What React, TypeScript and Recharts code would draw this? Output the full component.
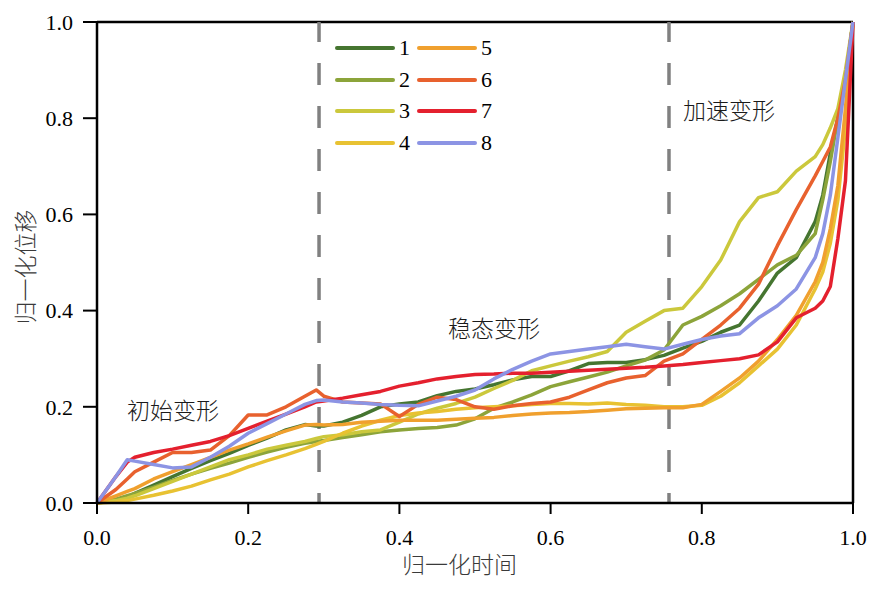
import React from 'react'
import { LineChart, Line, XAxis, YAxis, ReferenceLine } from 'recharts'

// normalised time grid shared by all 8 curves
const XS = [
  0, 0.025, 0.04, 0.05,
  0.075, 0.1, 0.125, 0.15, 0.175, 0.2, 0.225, 0.25, 0.275,
  0.29,
  0.3, 0.325, 0.35, 0.375, 0.4, 0.425, 0.45, 0.475, 0.5, 0.525, 0.55, 0.575, 0.6, 0.625, 0.65, 0.675, 0.7,
  0.725, 0.75, 0.775, 0.8, 0.825, 0.85, 0.875, 0.9, 0.925, 0.95,
  0.96, 0.97, 0.98, 0.99, 1,
]

const S1 = [
  0, 0.005, 0.012, 0.02,
  0.037, 0.055, 0.072, 0.088, 0.103, 0.12, 0.135, 0.152, 0.163,
  0.16,
  0.16, 0.168, 0.182, 0.2, 0.206, 0.21, 0.223, 0.232, 0.237, 0.246, 0.256, 0.263, 0.263, 0.275, 0.29, 0.292, 0.292,
  0.298, 0.307, 0.322, 0.336, 0.355, 0.37, 0.42, 0.478, 0.51, 0.585,
  0.64, 0.727, 0.8, 0.88, 1,
]
const S2 = [
  0, 0.008, 0.015, 0.02,
  0.033, 0.047, 0.06, 0.072, 0.083, 0.095, 0.106, 0.116, 0.124,
  0.128,
  0.13, 0.136, 0.142, 0.148, 0.152, 0.155, 0.157, 0.162, 0.175, 0.197, 0.21, 0.225, 0.242, 0.252, 0.262, 0.272, 0.285,
  0.297, 0.318, 0.37, 0.388, 0.41, 0.435, 0.465, 0.495, 0.515, 0.56,
  0.63, 0.71, 0.8, 0.88, 1,
]
const S3 = [
  0, 0.005, 0.01, 0.015,
  0.03, 0.045, 0.06, 0.075, 0.09, 0.1, 0.112, 0.12, 0.128,
  0.134,
  0.138, 0.142, 0.148, 0.152, 0.168, 0.185, 0.197, 0.207, 0.22, 0.238, 0.255, 0.275, 0.285, 0.295, 0.304, 0.315, 0.355,
  0.378, 0.4, 0.405, 0.45, 0.505, 0.585, 0.635, 0.647, 0.69, 0.72,
  0.745, 0.78, 0.82, 0.9, 1,
]
const S4 = [
  0, 0.002, 0.005, 0.008,
  0.016, 0.025, 0.035, 0.048, 0.06, 0.075, 0.088, 0.1, 0.113,
  0.122,
  0.128, 0.145, 0.16, 0.172, 0.182, 0.187, 0.19, 0.195, 0.198, 0.2, 0.202, 0.205, 0.207, 0.207, 0.206, 0.208, 0.205,
  0.203, 0.2, 0.2, 0.203, 0.222, 0.25, 0.285, 0.32, 0.37, 0.445,
  0.48, 0.54, 0.63, 0.78, 1,
]
const S5 = [
  0, 0.015, 0.024, 0.03,
  0.05, 0.065, 0.08, 0.095, 0.11, 0.123, 0.137, 0.15, 0.162,
  0.163,
  0.162, 0.163, 0.168, 0.17, 0.172, 0.172, 0.172, 0.174, 0.176, 0.178, 0.182, 0.185, 0.187, 0.188, 0.19, 0.193, 0.196,
  0.197, 0.198, 0.198, 0.205, 0.232, 0.26, 0.295, 0.34, 0.39, 0.46,
  0.5, 0.57, 0.66, 0.82, 1,
]
const S6 = [
  0, 0.028, 0.05, 0.065,
  0.085, 0.105, 0.105, 0.11, 0.14, 0.183, 0.183, 0.2, 0.222,
  0.235,
  0.222, 0.21, 0.208, 0.206, 0.18, 0.205, 0.22, 0.215, 0.2, 0.195, 0.202, 0.207, 0.21, 0.22, 0.235, 0.25, 0.26,
  0.265, 0.295, 0.31, 0.34, 0.37, 0.405, 0.455, 0.535, 0.61, 0.68,
  0.71, 0.74, 0.8, 0.88, 1,
]
const S7 = [
  0, 0.055, 0.085, 0.095,
  0.105, 0.112, 0.12, 0.128, 0.14, 0.155, 0.17, 0.185, 0.2,
  0.21,
  0.212, 0.218, 0.225, 0.232, 0.243, 0.25, 0.258, 0.263, 0.267, 0.268, 0.27, 0.27, 0.272, 0.274, 0.276, 0.278, 0.28,
  0.282, 0.285, 0.288, 0.292, 0.296, 0.3, 0.308, 0.335, 0.385, 0.405,
  0.42, 0.45, 0.55, 0.67, 1,
]
const S8 = [
  0, 0.055, 0.09, 0.087,
  0.08, 0.073, 0.075, 0.095, 0.118, 0.145, 0.165, 0.185, 0.205,
  0.213,
  0.214, 0.21, 0.208, 0.205, 0.203, 0.202, 0.212, 0.222, 0.235, 0.258, 0.278, 0.295, 0.31, 0.315, 0.32, 0.325, 0.33,
  0.325, 0.32, 0.33, 0.34, 0.347, 0.352, 0.385, 0.41, 0.445, 0.51,
  0.56, 0.64, 0.76, 0.88, 1,
]

const SERIES_NAMES = ['1', '2', '3', '4', '5', '6', '7', '8']
const SERIES_VALUES = [S1, S2, S3, S4, S5, S6, S7, S8]
const COLORS = ['#457530', '#8ca43a', '#cbc83c', '#e8c232', '#f0a02e', '#e8612e', '#e4202e', '#8c94e4']

const X_TICKS = [0, 0.2, 0.4, 0.6, 0.8, 1]
const Y_TICKS = [0, 0.2, 0.4, 0.6, 0.8, 1]
const STAGE_BOUNDS = [0.2937, 0.7566]
const STAGES = [
  { text: '初始变形', left: 127, cy: 409 },
  { text: '稳态变形', left: 448, cy: 327 },
  { text: '加速变形', left: 683, cy: 109 },
]

const data = XS.map((x, i) => {
  const row: Record<string, number> = { x }
  SERIES_NAMES.forEach((n, k) => {
    row['s' + n] = SERIES_VALUES[k][i]
  })
  return row
})

const serif = '"Liberation Serif", "Times New Roman", serif'
const cjk = '"Noto Sans CJK SC", sans-serif'
const tickStyle = { fontFamily: serif, fontSize: 22, fill: '#000' }

const textAt = (left: number, cy: number, extra: React.CSSProperties = {}): React.CSSProperties => ({
  position: 'absolute',
  left,
  top: cy - 15,
  height: 30,
  lineHeight: '30px',
  whiteSpace: 'nowrap',
  ...extra,
})

export default function App() {
  return (
    <div style={{ position: 'absolute', left: 0, top: 0, width: 886, height: 591, background: '#fff' }}>
      <LineChart width={886} height={591} data={data} margin={{ top: 22, right: 33, bottom: 28, left: 37 }}>
        <XAxis
          type="number"
          dataKey="x"
          domain={[0, 1]}
          ticks={X_TICKS}
          interval={0}
          tickFormatter={(v) => v.toFixed(1)}
          height={60}
          tick={tickStyle}
          tickSize={11}
          tickMargin={15}
          axisLine={{ stroke: '#000', strokeWidth: 2.5 }}
          tickLine={{ stroke: '#000', strokeWidth: 2 }}
        />
        <YAxis
          type="number"
          domain={[0, 1]}
          ticks={Y_TICKS}
          interval={0}
          tickFormatter={(v) => v.toFixed(1)}
          width={60}
          tick={tickStyle}
          tickSize={14}
          tickMargin={10}
          axisLine={{ stroke: '#000', strokeWidth: 2.5 }}
          tickLine={{ stroke: '#000', strokeWidth: 2 }}
        />
        <ReferenceLine y={1} stroke="#000" strokeWidth={2.5} />
        <ReferenceLine x={1} stroke="#000" strokeWidth={2.5} />
        {STAGE_BOUNDS.map((b) => (
          <ReferenceLine key={b} x={b} stroke="#808080" strokeWidth={3.5} strokeDasharray="22 21" strokeDashoffset={12} />
        ))}
        {SERIES_NAMES.map((n, k) => (
          <Line
            key={n}
            type="linear"
            dataKey={'s' + n}
            stroke={COLORS[k]}
            strokeWidth={3.5}
            strokeLinejoin="round"
            dot={false}
            activeDot={false}
            isAnimationActive={false}
          />
        ))}
      </LineChart>

      {/* legend, two columns */}
      {SERIES_NAMES.map((n, k) => {
        const col = Math.floor(k / 4)
        const row = k % 4
        const lx = col === 0 ? 335 : 417
        const cy = 48 + row * 31.5
        return (
          <React.Fragment key={n}>
            <div style={{ position: 'absolute', left: lx, top: cy - 2, width: 60, height: 4, background: COLORS[k], borderRadius: 2 }} />
            <div style={textAt(lx + 64, cy, { fontFamily: serif, fontSize: 22, color: '#000' })}>{n}</div>
          </React.Fragment>
        )
      })}

      {STAGES.map((s) => (
        <div key={s.text} style={textAt(s.left, s.cy, { fontFamily: cjk, fontSize: 23, fontWeight: 300, color: '#1a1a1a' })}>
          {s.text}
        </div>
      ))}

      <div style={textAt(402, 563, { fontFamily: cjk, fontSize: 23, fontWeight: 300, color: '#3a3a3a' })}>归一化时间</div>
      <div
        style={{
          position: 'absolute',
          left: 24,
          top: 267,
          transform: 'translate(-50%, -50%) rotate(-90deg)',
          fontFamily: cjk,
          fontSize: 23,
          fontWeight: 300,
          color: '#3a3a3a',
          whiteSpace: 'nowrap',
          lineHeight: '30px',
        }}
      >
        归一化位移
      </div>
    </div>
  )
}
